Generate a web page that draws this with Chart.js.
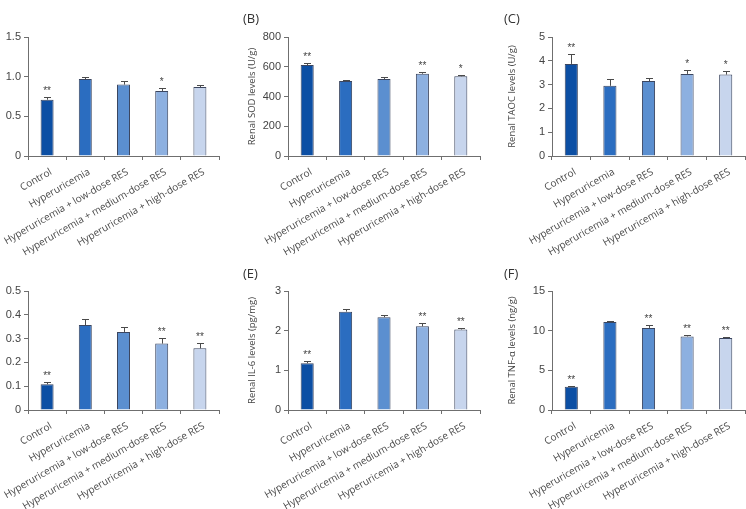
<!DOCTYPE html>
<html>
<head>
<meta charset="utf-8">
<script src="https://cdn.jsdelivr.net/npm/chart.js@4.4.0/dist/chart.umd.min.js"></script>
<style>
  body { margin: 0; background: #fff; }
  #wrap { position: relative; width: 746px; height: 509px; overflow: hidden; }
  canvas { position: absolute; }
  .tag { position: absolute; font: 13px "Open Sans", sans-serif; color: #333; }
</style>
</head>
<body>
<div id="wrap">
  <canvas id="panelA"></canvas>
  <canvas id="panelB"></canvas>
  <canvas id="panelC"></canvas>
  <canvas id="panelD"></canvas>
  <canvas id="panelE"></canvas>
  <canvas id="panelF"></canvas>
  <div class="tag" style="left:243px;top:9px">(B)</div>
  <div class="tag" style="left:504px;top:9px">(C)</div>
  <div class="tag" style="left:243px;top:264px">(E)</div>
  <div class="tag" style="left:504px;top:264px">(F)</div>
</div>
<script>
const groups = ['Control', 'Hyperuricemia', 'Hyperuricemia + low-dose RES', 'Hyperuricemia + medium-dose RES', 'Hyperuricemia + high-dose RES'];

// panel A (no axis title visible)
const aVals = [0.71, 0.97, 0.90, 0.82, 0.87];
const aErr = [0.03, 0.03, 0.05, 0.04, 0.03];
const aStars = ['**', '', '', '*', ''];
const aTicks = [0, 0.5, 1.0, 1.5];

// panel B - SOD
const sodVals = [612, 505, 518, 553, 536];
const sodErr = [10, 8, 16, 15, 11];
const sodStars = ['**', '', '', '**', '*'];
const sodTicks = [0, 200, 400, 600, 800];

// panel C - TAOC
const taocVals = [3.87, 2.95, 3.15, 3.45, 3.42];
const taocErr = [0.42, 0.28, 0.12, 0.16, 0.14];
const taocStars = ['**', '', '', '*', '*'];
const taocTicks = [0, 1, 2, 3, 4, 5];

// panel D (no axis title visible)
const dVals = [0.108, 0.357, 0.328, 0.279, 0.259];
const dErr = [0.009, 0.027, 0.019, 0.023, 0.022];
const dStars = ['**', '', '', '**', '**'];
const dTicks = [0, 0.1, 0.2, 0.3, 0.4, 0.5];

// panel E - IL-6
const il6Vals = [1.18, 2.48, 2.34, 2.11, 2.03];
const il6Err = [0.06, 0.07, 0.05, 0.08, 0.04];
const il6Stars = ['**', '', '', '**', '**'];
const il6Ticks = [0, 1, 2, 3];

// panel F - TNF-a
const tnfVals = [2.93, 11.1, 10.35, 9.27, 9.09];
const tnfErr = [0.12, 0.13, 0.34, 0.2, 0.13];
const tnfStars = ['**', '', '**', '**', '**'];
const tnfTicks = [0, 5, 10, 15];

const barColors = ['#0c4fa4', '#2b6dc0', '#5b8fd0', '#8db0e0', '#c7d5ed'];
const axisColor = '#6f6f6f';

// error bars + significance stars
const errorBars = {
    id: 'errorBars',
    afterDatasetsDraw(chart, args, opts) {
        const ctx = chart.ctx;
        const y = chart.scales.y;
        const meta = chart.getDatasetMeta(0);
        const vals = chart.data.datasets[0].data;
        ctx.save();
        meta.data.forEach((bar, i) => {
            const top = y.getPixelForValue(vals[i] + opts.err[i]);
            ctx.strokeStyle = '#4a4a4a';
            ctx.lineWidth = 1;
            ctx.beginPath();
            ctx.moveTo(Math.round(bar.x) + 0.5, bar.y);
            ctx.lineTo(Math.round(bar.x) + 0.5, Math.round(top) + 0.5);
            ctx.moveTo(Math.round(bar.x) - 3, Math.round(top) + 0.5);
            ctx.lineTo(Math.round(bar.x) + 4, Math.round(top) + 0.5);
            ctx.stroke();
            if (opts.stars[i]) {
                ctx.fillStyle = '#444';
                ctx.font = '10px "Liberation Sans", Arial, sans-serif';
                ctx.textAlign = 'center';
                ctx.textBaseline = 'alphabetic';
                ctx.fillText(opts.stars[i], bar.x, top - 3);
            }
        });
        ctx.restore();
    }
};

function makePanel(id, box, area, vals, err, stars, ticks, title, fmt) {
    const cv = document.getElementById(id);
    cv.width = box.w;
    cv.height = box.h;
    cv.style.left = box.x + 'px';
    cv.style.top = box.y + 'px';
    return new Chart(cv.getContext('2d'), {
        type: 'bar',
        data: {
            labels: groups,
            datasets: [{
                data: vals,
                backgroundColor: barColors,
                borderColor: '#3b4660',
                borderWidth: 1,
                borderSkipped: 'bottom',
                barPercentage: 0.34,
                categoryPercentage: 1
            }]
        },
        options: {
            responsive: false,
            animation: false,
            devicePixelRatio: 1,
            layout: {
                padding: { left: 0, top: area.top, right: box.w - area.right, bottom: 0 }
            },
            plugins: {
                legend: { display: false },
                tooltip: { enabled: false },
                errorBars: { err: err, stars: stars }
            },
            scales: {
                x: {
                    afterFit: s => { s.height = box.h - area.bottom; },
                    grid: { display: true, drawOnChartArea: false, offset: true, tickLength: 4, color: axisColor },
                    border: { color: axisColor },
                    ticks: {
                        minRotation: 30,
                        maxRotation: 30,
                        autoSkip: false,
                        padding: 6,
                        labelOffset: 4,
                        color: '#4a4a4a',
                        font: { family: '"Open Sans", sans-serif', size: 10 }
                    }
                },
                y: {
                    min: ticks[0],
                    max: ticks[ticks.length - 1],
                    afterFit: s => { s.width = area.left; },
                    afterBuildTicks: s => { s.ticks = ticks.map(v => ({ value: v })); },
                    grid: { display: true, drawOnChartArea: false, tickLength: 4, color: axisColor },
                    border: { color: axisColor },
                    ticks: {
                        padding: 3,
                        color: '#444',
                        font: { family: '"Liberation Sans", Arial, sans-serif', size: 11 },
                        callback: fmt
                    },
                    title: {
                        display: !!title,
                        text: title,
                        color: '#444',
                        padding: { top: 7, bottom: 2 },
                        font: { family: '"Open Sans", sans-serif', size: 9.5 }
                    }
                }
            }
        },
        plugins: [errorBars]
    });
}

const oneDec = v => v === 0 ? '0' : v.toFixed(1);
const plain = v => String(v);

makePanel('panelA', { x: 0, y: 0, w: 240, h: 260 }, { left: 28, right: 219, top: 37, bottom: 156 },
    aVals, aErr, aStars, aTicks, '', oneDec);
makePanel('panelB', { x: 240, y: 0, w: 260, h: 260 }, { left: 48, right: 240, top: 37, bottom: 156 },
    sodVals, sodErr, sodStars, sodTicks, 'Renal SOD levels (U/g)', plain);
makePanel('panelC', { x: 500, y: 0, w: 246, h: 260 }, { left: 52, right: 245, top: 37, bottom: 156 },
    taocVals, taocErr, taocStars, taocTicks, 'Renal TAOC levels (U/g)', plain);
makePanel('panelD', { x: 0, y: 260, w: 240, h: 249 }, { left: 28, right: 219, top: 31, bottom: 150 },
    dVals, dErr, dStars, dTicks, '', oneDec);
makePanel('panelE', { x: 240, y: 260, w: 260, h: 249 }, { left: 48, right: 240, top: 31, bottom: 150 },
    il6Vals, il6Err, il6Stars, il6Ticks, 'Renal IL-6 levels (pg/mg)', plain);
makePanel('panelF', { x: 500, y: 260, w: 246, h: 249 }, { left: 52, right: 245, top: 31, bottom: 150 },
    tnfVals, tnfErr, tnfStars, tnfTicks, 'Renal TNF-α levels (ng/g)', plain);
</script>
</body>
</html>
